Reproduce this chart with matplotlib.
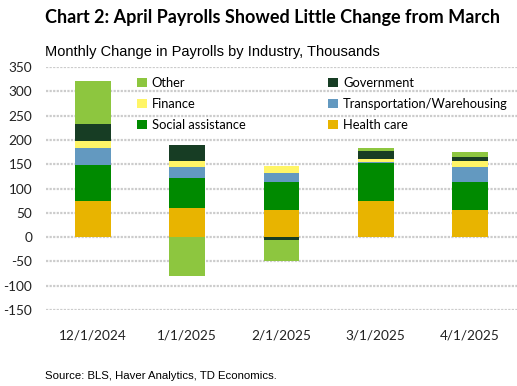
import numpy as np
import matplotlib.pyplot as plt

# data (thousands)
months = ['12/1/2024', '1/1/2025', '2/1/2025', '3/1/2025', '4/1/2025']
health_care = [75, 60, 56, 75, 56]
social_assistance = [74, 62, 58, 77, 58]
transport_warehousing = [35, 22, 18, 3, 30]
finance = [13, 13, 15, 6, 12]
government = [35, 33, -6, 16, 10]
other = [90, -80, -43, 7, 9]

series = [
    ('Health care', health_care, '#E8B400'),
    ('Social assistance', social_assistance, '#008A00'),
    ('Transportation/Warehousing', transport_warehousing, '#6399C0'),
    ('Finance', finance, '#FFF566'),
    ('Government', government, '#173D24'),
    ('Other', other, '#8DC63F'),
]

plt.rcParams['font.family'] = ['Lato', 'DejaVu Sans']
plt.rcParams['axes.unicode_minus'] = False

fig = plt.figure(figsize=(5.17, 3.86), dpi=100)
ax = fig.add_axes([0.089, 0.197, 0.911, 0.629])

x = np.arange(len(months))
pos_base = np.zeros(len(months))
neg_base = np.zeros(len(months))
bars = {}
for name, vals, col in series:
    vals = np.array(vals, dtype=float)
    bottom = np.where(vals >= 0, pos_base, neg_base)
    bars[name] = ax.bar(x, vals, width=0.38, bottom=bottom, color=col,
                        label=name, zorder=3)
    pos_base = pos_base + np.clip(vals, 0, None)
    neg_base = neg_base + np.clip(vals, None, 0)

ax.set_xlim(-0.5, len(months) - 0.5)
ax.set_ylim(-150, 350)
ax.set_yticks(np.arange(-150, 351, 50))
ax.set_xticks(x)
ax.set_xticklabels(months)
ax.tick_params(axis='both', length=0, labelsize=9.8, colors='#222222')
ax.tick_params(axis='x', pad=14)
ax.tick_params(axis='y', pad=10)
ax.yaxis.grid(True, color='#cccccc', linewidth=1.6, linestyle=(0, (1, 0.6)), zorder=0)
for s in ax.spines.values():
    s.set_visible(False)

order = ['Other', 'Finance', 'Social assistance', 'Government',
         'Transportation/Warehousing', 'Health care']
leg = ax.legend([bars[n] for n in order], order, ncol=2, loc='upper left',
                bbox_to_anchor=(0.175, 0.995), frameon=False, fontsize=9.3,
                handlelength=0.75, handleheight=0.75, handletextpad=0.4,
                columnspacing=6.4, labelspacing=0.7, borderaxespad=0.25)

fig.text(0.087, 0.955, 'Chart 2: April Payrolls Showed Little Change from March',
         fontsize=13.0, fontweight='bold', va='center', ha='left')
fig.text(0.087, 0.865, 'Monthly Change in Payrolls by Industry, Thousands',
         fontsize=10.5, va='center', ha='left', family=['Liberation Sans'])
fig.text(0.087, 0.025, 'Source: BLS, Haver Analytics, TD Economics.',
         fontsize=8.2, va='center', ha='left', family=['Liberation Sans'])

fig.savefig('out.png', dpi=100)
